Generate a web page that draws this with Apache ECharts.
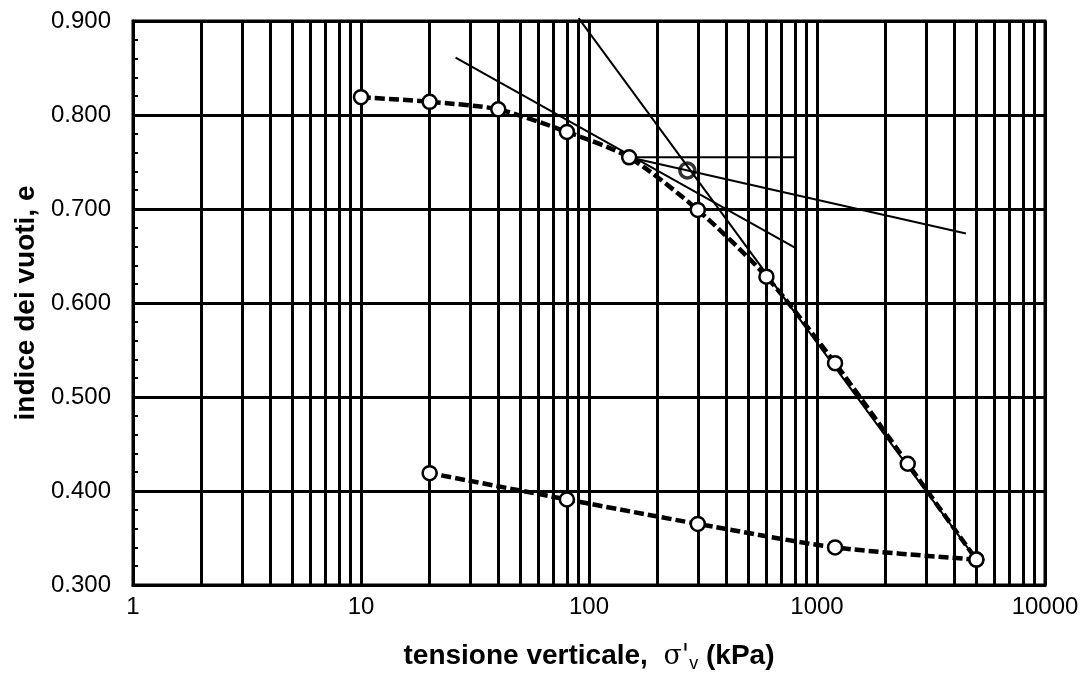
<!DOCTYPE html>
<html><head><meta charset="utf-8">
<script src="https://cdn.jsdelivr.net/npm/echarts@6/dist/echarts.min.js"></script>
<style>html,body{margin:0;padding:0;background:#fff}#c{width:1087px;height:679px}</style>
</head><body><div id="c"></div>
<script>
// ---- data ----
const loadingStress = [10, 20, 40, 80, 150, 300, 600, 1200, 2500, 5000];
const loadingVoid   = [0.819, 0.814, 0.806, 0.782, 0.755, 0.699, 0.628, 0.536, 0.429, 0.327];
const unloadStress  = [5000, 1200, 300, 80, 20];
const unloadVoid    = [0.327, 0.340, 0.365, 0.391, 0.419];
// Casagrande construction lines
const tangentLine    = [[26, 0.861], [800, 0.659]];
const horizontalLine = [[150, 0.755], [800, 0.755]];
const bisectorLine   = [[150, 0.755], [4500, 0.674]];
const virginLine     = [[90, 0.903], [5000, 0.327]];
const preconsPoint   = [[270, 0.741]];
// grid / ticks
const minorGridX = [2,3,4,5,6,7,8,9, 20,30,40,50,60,70,80,90, 200,300,400,500,600,700,800,900, 2000,3000,4000,5000,6000,7000,8000,9000];
const xTickLabels = ['1', '10', '100', '1000', '10000'];

const pairs = (xs, ys) => xs.map((x, i) => [x, ys[i]]);
const FONT = '"Liberation Sans", Arial, sans-serif';

const chart = echarts.init(document.getElementById('c'), null, {renderer: 'canvas'});
const thin = {color: '#000', width: 2};
chart.setOption({
  animation: false,
  backgroundColor: '#fff',
  grid: {left: 133, right: 42, top: 21, bottom: 94, show: true, borderColor: '#000', borderWidth: 3, backgroundColor: 'transparent'},
  xAxis: {
    type: 'log', logBase: 10, min: 1, max: 10000,
    axisLine: {show: true, lineStyle: {color: '#000', width: 3}},
    axisTick: {show: false},
    splitLine: {show: true, lineStyle: {color: '#000', width: 3}},
    axisLabel: {color: '#000', fontFamily: FONT, fontSize: 24, margin: 10,
      formatter: v => { const k = Math.round(Math.log10(v)); return xTickLabels[k] !== undefined ? xTickLabels[k] : String(Math.round(v)); }},
    name: 'tensione verticale,  {sig|σ\'}{sub|v}{b| (kPa)}',
    nameLocation: 'middle', nameGap: 55,
    nameTextStyle: {color: '#000', fontFamily: FONT, fontWeight: 'bold', fontSize: 28,
      rich: {
        sig: {fontFamily: '"DejaVu Serif", serif', fontWeight: 'normal', fontSize: 27, color: '#000'},
        sub: {fontFamily: FONT, fontWeight: 'normal', fontSize: 18, color: '#000', padding: [15, 0, 0, 0]},
        b: {fontFamily: FONT, fontWeight: 'bold', fontSize: 28, color: '#000'}
      }}
  },
  yAxis: {
    type: 'value', min: 0.3, max: 0.9, interval: 0.1,
    axisLine: {show: true, lineStyle: {color: '#000', width: 3}},
    axisTick: {show: true, inside: true, length: 5, lineStyle: {color: '#000', width: 2}},
    minorTick: {show: true, splitNumber: 5, length: 5, lineStyle: {color: '#000', width: 2}},
    splitLine: {show: true, lineStyle: {color: '#000', width: 3}},
    axisLabel: {color: '#000', fontFamily: FONT, fontSize: 24, margin: 22, formatter: v => v.toFixed(3)},
    name: 'indice dei vuoti, e', nameLocation: 'middle', nameGap: 92,
    nameTextStyle: {color: '#000', fontFamily: FONT, fontWeight: 'bold', fontSize: 28}
  },
  series: [
    {type: 'line', data: [], silent: true, z: 1,
     markLine: {silent: true, symbol: ['none', 'none'], label: {show: false},
       lineStyle: {color: '#000', width: 3, type: 'solid'},
       data: minorGridX.map(v => ({xAxis: v}))}},
    {type: 'line', data: tangentLine, symbol: 'none', lineStyle: thin, z: 3, silent: true},
    {type: 'line', data: horizontalLine, symbol: 'none', lineStyle: thin, z: 3, silent: true},
    {type: 'line', data: bisectorLine, symbol: 'none', lineStyle: thin, z: 3, silent: true},
    {type: 'line', data: virginLine, symbol: 'none', lineStyle: thin, z: 3, silent: true, clip: false},
    {type: 'line', data: pairs(loadingStress, loadingVoid), smooth: 0.25,
     lineStyle: {color: '#000', width: 4.5, type: [10, 4]},
     symbol: 'circle', symbolSize: 14, showAllSymbol: true,
     itemStyle: {color: '#fff', borderColor: '#000', borderWidth: 2.5}, z: 5, silent: true},
    {type: 'line', data: pairs(unloadStress, unloadVoid), smooth: 0.25,
     lineStyle: {color: '#000', width: 4.5, type: [10, 4]},
     symbol: 'circle', symbolSize: 14, showAllSymbol: true,
     itemStyle: {color: '#fff', borderColor: '#000', borderWidth: 2.5}, z: 5, silent: true},
    {type: 'scatter', data: preconsPoint, symbol: 'circle', symbolSize: 15,
     itemStyle: {color: 'rgba(255,255,255,0)', borderColor: '#000', borderWidth: 3.5}, z: 6, silent: true}
  ]
});
</script></body></html>
